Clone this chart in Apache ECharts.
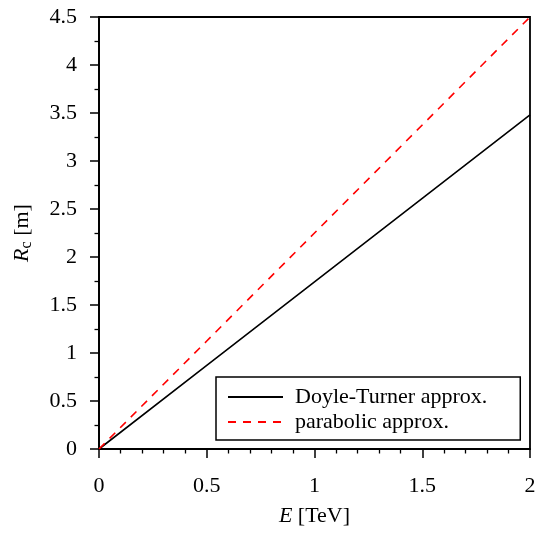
<!DOCTYPE html>
<html>
<head>
<meta charset="utf-8">
<script src="https://cdn.jsdelivr.net/npm/echarts@6/dist/echarts.min.js"></script>
<style>
  html, body { margin: 0; padding: 0; background: #fff; }
  #chart { width: 539px; height: 535px; }
</style>
</head>
<body>
<div id="chart"></div>
<script>
// E [TeV] sample points and read-off radii [m]
const energy = [0, 0.5, 1, 1.5, 2];
const doyleTurner = [0, 0.87, 1.74, 2.61, 3.48];
const parabolic = [0, 1.125, 2.25, 3.375, 4.5];
const seriesNames = ['Doyle-Turner approx.', 'parabolic approx.'];

const FONT = "'Liberation Serif', 'DejaVu Serif', serif";

const chart = echarts.init(document.getElementById('chart'), null, { renderer: 'canvas' });

const pairs = (ys) => energy.map((x, i) => [x, ys[i]]);

const option = {
  backgroundColor: '#fff',
  animation: false,
  textStyle: { fontFamily: FONT, color: '#000' },
  grid: {
    left: 99, right: 9, top: 17, bottom: 86,
    show: true,
    borderColor: '#000',
    borderWidth: 1.8
  },
  legend: {
    orient: 'vertical',
    left: 216,
    top: 377,
    padding: [9, 33, 7, 11],
    itemGap: 3,
    itemWidth: 55,
    itemHeight: 14,
    borderColor: '#000',
    borderWidth: 1.5,
    backgroundColor: '#fff',
    itemStyle: { opacity: 0 },
    textStyle: {
      fontFamily: FONT, fontSize: 22, color: '#000',
      lineHeight: 22, padding: [0, 0, 0, 7]
    },
    data: seriesNames
  },
  xAxis: {
    type: 'value',
    min: 0, max: 2, interval: 0.5,
    name: '{i|E} [TeV]',
    nameLocation: 'middle',
    nameGap: 56,
    nameTextStyle: {
      fontFamily: FONT, fontSize: 22, color: '#000',
      rich: { i: { fontFamily: FONT, fontSize: 22, fontStyle: 'italic' } }
    },
    axisLine: { onZero: false, lineStyle: { color: '#000', width: 1.8 } },
    axisTick: { length: 9, lineStyle: { color: '#000', width: 1.5 } },
    minorTick: { show: true, splitNumber: 5, length: 4.5, lineStyle: { color: '#000', width: 1.3 } },
    axisLabel: { margin: 26, fontFamily: FONT, fontSize: 22, color: '#000' },
    splitLine: { show: false }
  },
  yAxis: {
    type: 'value',
    min: 0, max: 4.5, interval: 0.5,
    name: '{i|R}{s|c} [m]',
    nameLocation: 'middle',
    nameGap: 64,
    nameRotate: 90,
    nameTextStyle: {
      fontFamily: FONT, fontSize: 22, color: '#000',
      rich: {
        i: { fontFamily: FONT, fontSize: 22, fontStyle: 'italic' },
        s: { fontFamily: FONT, fontSize: 16, verticalAlign: 'bottom', padding: [10, 0, 0, 0] }
      }
    },
    axisLine: { onZero: false, lineStyle: { color: '#000', width: 1.8 } },
    axisTick: { length: 9, lineStyle: { color: '#000', width: 1.5 } },
    minorTick: { show: true, splitNumber: 2, length: 4.5, lineStyle: { color: '#000', width: 1.3 } },
    axisLabel: { margin: 22, fontFamily: FONT, fontSize: 22, color: '#000' },
    splitLine: { show: false }
  },
  series: [
    {
      name: seriesNames[0],
      type: 'line',
      data: pairs(doyleTurner),
      symbol: 'none',
      lineStyle: { color: '#000', width: 1.6 },
      itemStyle: { color: '#000' }
    },
    {
      name: seriesNames[1],
      type: 'line',
      data: pairs(parabolic),
      symbol: 'none',
      lineStyle: { color: '#ff0000', width: 1.6, type: [8, 7] },
      itemStyle: { color: '#ff0000' }
    }
  ]
};

chart.setOption(option);
window.addEventListener('resize', () => chart.resize());
</script>
</body>
</html>
